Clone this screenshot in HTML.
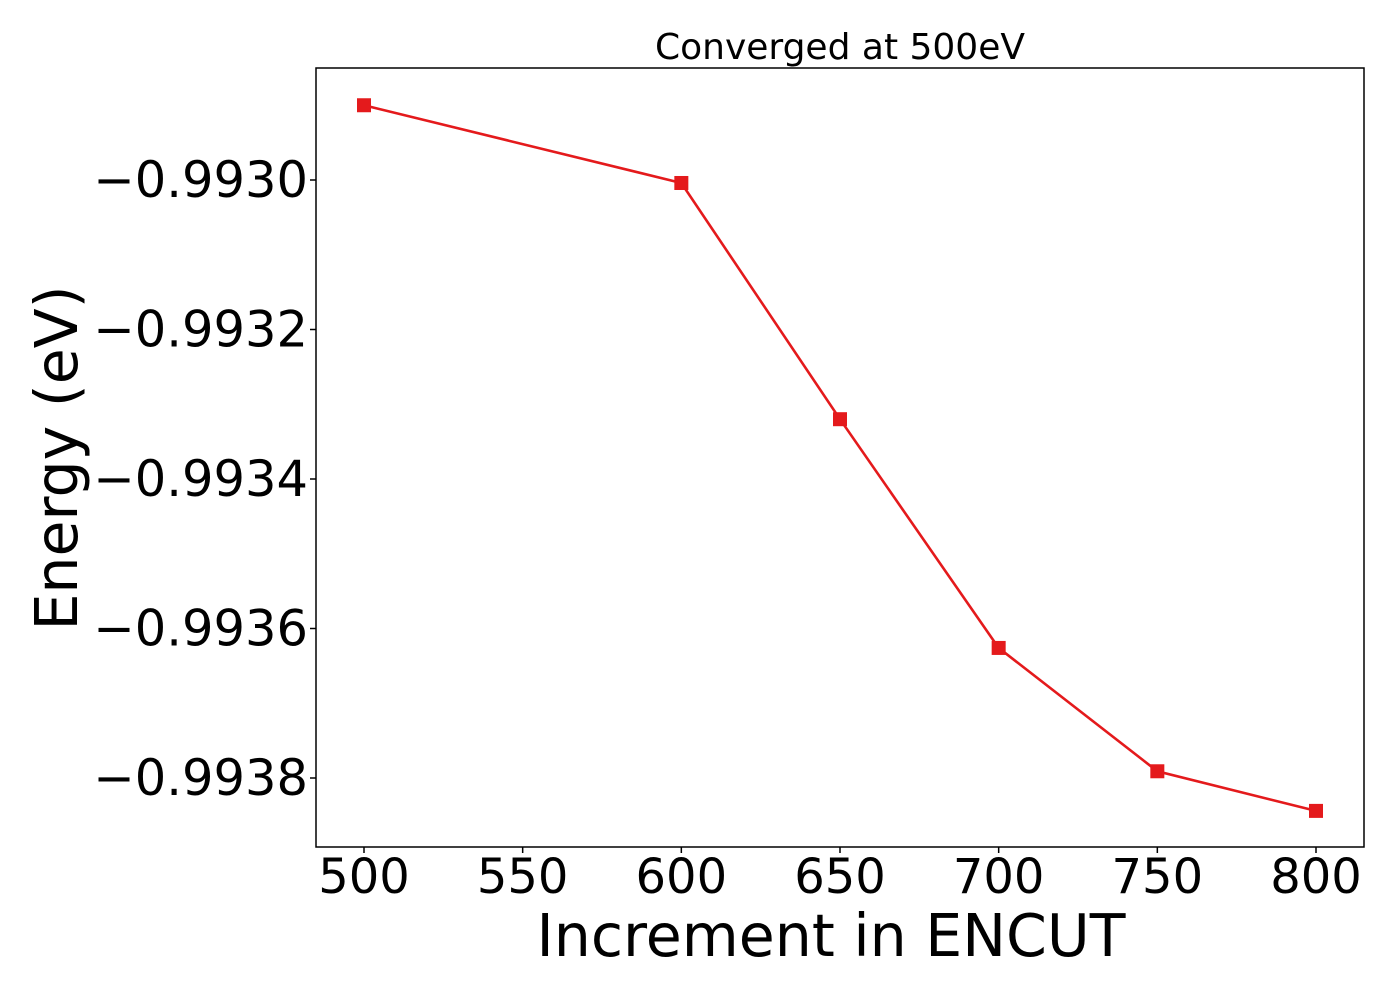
<!DOCTYPE html>
<html><head><meta charset="utf-8"><style>
body{margin:0;background:#fff}
svg text{font-family:"DejaVu Sans","Liberation Sans",sans-serif;fill:#000}
</style></head><body>
<svg width="1400" height="1000" viewBox="0 0 1400 1000">
<rect width="1400" height="1000" fill="#fff"/>
<g id="plot"></g>
</svg>
<script>
const categories=[500,600,650,700,750,800];
const energy=[-0.99290,-0.993004,-0.99332,-0.993626,-0.993791,-0.993844];
const xTicks=[500,550,600,650,700,750,800];
const yTicks=[-0.9930,-0.9932,-0.9934,-0.9936,-0.9938];
const yTickLabels=["\u22120.9930","\u22120.9932","\u22120.9934","\u22120.9936","\u22120.9938"];
const L=316,R=1364,T=68,B=847;
const xs=v=>364+(v-500)*(952/300);
const ys=v=>180+(-0.9930-v)*747500;
const NS="http://www.w3.org/2000/svg";
const g=document.getElementById('plot');
function mk(t,a,txt){const e=document.createElementNS(NS,t);for(const k in a)e.setAttribute(k,a[k]);if(txt!==undefined)e.textContent=txt;g.appendChild(e);return e;}
let e=mk('rect',{x:L,y:T,width:R-L,height:B-T,fill:'none',stroke:'#000','stroke-width':1.5});


xTicks.forEach(v=>{
 let t=mk('line',{x1:xs(v),x2:xs(v),y1:B,y2:B+6,stroke:'#000','stroke-width':1.5});
 
 
 let l=mk('text',{x:xs(v),y:893,'font-size':48,'text-anchor':'middle'},String(v));
 
 
});
yTicks.forEach((v,i)=>{
 let t=mk('line',{x1:L-6,x2:L,y1:ys(v),y2:ys(v),stroke:'#000','stroke-width':1.5});
 
 
 let l=mk('text',{x:308,y:ys(v)+17,'font-size':49.5,'text-anchor':'end'},yTickLabels[i]);
 
 
});
let pts=categories.map((c,i)=>xs(c)+','+ys(energy[i])).join(' ');
e=mk('polyline',{points:pts,fill:'none',stroke:'#e41a1c','stroke-width':2.6});


categories.forEach((c,i)=>{
 let m=mk('rect',{x:xs(c)-7,y:ys(energy[i])-7,width:14,height:14,fill:'#e41a1c'});
 
 
});
e=mk('text',{x:840,y:59,'font-size':36,'text-anchor':'middle'},'Converged at 500eV');


e=mk('text',{x:831,y:956,'font-size':58.5,'text-anchor':'middle'},'Increment in ENCUT');


e=mk('text',{x:0,y:0,'font-size':58.5,'text-anchor':'middle',transform:'translate(77,458) rotate(-90)'},'Energy (eV)');


</script>
</body></html>
